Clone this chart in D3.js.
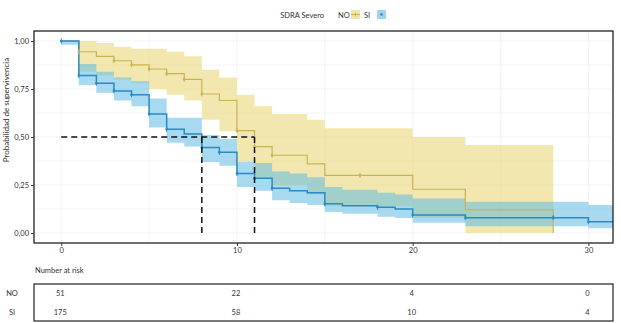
<!DOCTYPE html>
<html>
<head>
<meta charset="utf-8">
<script src="https://cdn.jsdelivr.net/npm/d3@7"></script>
<style>
  body { margin: 0; background: #fff; }
  svg text { font-family: Lato, "DejaVu Sans", sans-serif; fill: #333; }
</style>
</head>
<body>
<div id="chart"></div>
<script>
// Kaplan-Meier curves, SDRA Severo NO / SI
const groups = ["NO", "SI"];

const noTimes = [0, 1, 2, 3, 4, 5, 6, 7, 8, 9, 10, 11, 12, 14, 15, 20, 23];
const noSurv  = [1.0, 0.944, 0.92, 0.897, 0.876, 0.854, 0.83, 0.80, 0.724, 0.69, 0.533, 0.45, 0.405, 0.36, 0.30, 0.228, 0.12];
const noLower = [1.0, 0.84, 0.82, 0.80, 0.78, 0.75, 0.72, 0.69, 0.59, 0.53, 0.37, 0.29, 0.25, 0.20, 0.14, 0.08, 0.0];
const noUpper = [1.0, 1.0, 0.99, 0.97, 0.96, 0.96, 0.944, 0.92, 0.85, 0.81, 0.72, 0.66, 0.62, 0.59, 0.545, 0.50, 0.458];
const noEnd = 28;
const noMarks = [1, 3, 4, 5, 6, 7, 8, 10, 11, 12, 17];

const siTimes = [0, 1, 2, 3, 4, 5, 6, 7, 8, 9, 10, 11, 12, 13, 14, 15, 16, 18, 19, 20, 23, 30];
const siSurv  = [1.0, 0.82, 0.78, 0.74, 0.72, 0.62, 0.54, 0.515, 0.445, 0.42, 0.31, 0.285, 0.233, 0.22, 0.21, 0.152, 0.142, 0.134, 0.125, 0.094, 0.08, 0.059];
const siLower = [0.98, 0.77, 0.73, 0.69, 0.66, 0.55, 0.47, 0.45, 0.37, 0.35, 0.24, 0.22, 0.17, 0.156, 0.146, 0.11, 0.10, 0.085, 0.078, 0.054, 0.035, 0.025];
const siUpper = [1.0, 0.88, 0.84, 0.81, 0.79, 0.70, 0.60, 0.60, 0.51, 0.49, 0.37, 0.365, 0.32, 0.31, 0.29, 0.24, 0.225, 0.21, 0.20, 0.18, 0.163, 0.146];
const siEnd = 31.4;
const siMarks = [0, 1, 2, 3, 4, 5, 6, 8, 9, 10, 11, 12, 15, 18, 20, 23, 28, 30];

const medianNO = 11;
const medianSI = 8;

const xTicks = [0, 10, 20, 30];
const yTicks = [0, 0.25, 0.5, 0.75, 1];
const yTickLabels = ["0,00", "0,25", "0,50", "0,75", "1,00"];

const riskTimes = [0, 10, 20, 30];
const riskNO = [51, 22, 4, 0];
const riskSI = [175, 58, 10, 4];

const colors = {
  NO: { line: "#c8b455", band: "rgb(232,214,110)" },
  SI: { line: "#2a8bbf", band: "rgb(95,185,228)" }
};

const width = 621, height = 323;
const plot = { left: 34, right: 613, top: 31, bottom: 243 };

const svg = d3.select("#chart").append("svg")
  .attr("width", width)
  .attr("height", height);

const x = d3.scaleLinear().domain([-1.55, 31.4]).range([plot.left, plot.right]);
const y = d3.scaleLinear().domain([-0.052, 1.052]).range([plot.bottom, plot.top]);

svg.append("defs").append("clipPath")
  .attr("id", "clip")
  .append("rect")
  .attr("x", plot.left).attr("y", plot.top)
  .attr("width", plot.right - plot.left)
  .attr("height", plot.bottom - plot.top);

// faint grid (only really shows through the bands)
let grid = svg.append("g").attr("clip-path", "url(#clip)");
let gx = d3.range(0, 35, 5), gy = d3.range(0, 1.01, 0.125);
grid.selectAll(".gx").data(gx).enter().append("line")
  .attr("x1", d => x(d)).attr("x2", d => x(d))
  .attr("y1", plot.top).attr("y2", plot.bottom)
  .attr("stroke", "#f1f1f1").attr("stroke-width", 0.8);
grid.selectAll(".gy").data(gy).enter().append("line")
  .attr("x1", plot.left).attr("x2", plot.right)
  .attr("y1", d => y(d)).attr("y2", d => y(d))
  .attr("stroke", "#f1f1f1").attr("stroke-width", 0.8);

function makeSeries(times, surv, lower, upper, end) {
  let pts = times.map((t, i) => ({t: t, s: surv[i], lo: lower[i], hi: upper[i]}));
  let last = pts[pts.length - 1];
  pts.push({t: end, s: last.s, lo: last.lo, hi: last.hi});
  return pts;
}

const series = {
  NO: makeSeries(noTimes, noSurv, noLower, noUpper, noEnd),
  SI: makeSeries(siTimes, siSurv, siLower, siUpper, siEnd)
};

const area = d3.area()
  .curve(d3.curveStepAfter)
  .x(d => x(d.t))
  .y0(d => y(d.lo))
  .y1(d => y(d.hi));

const line = d3.line()
  .curve(d3.curveStepAfter)
  .x(d => x(d.t))
  .y(d => y(d.s));

let layer = svg.append("g").attr("clip-path", "url(#clip)");

groups.forEach(g => {
  layer.append("path")
    .attr("d", area(series[g]))
    .attr("fill", colors[g].band)
    .attr("fill-opacity", 0.55);
});

// survival lines
groups.forEach(g => {
  let pts = series[g].slice();
  if (g === "NO") pts.push({t: noEnd, s: 0});
  layer.append("path")
    .attr("d", line(pts))
    .attr("fill", "none")
    .attr("stroke", colors[g].line)
    .attr("stroke-width", g === "SI" ? 1.5 : 1.2);
});

// marks on the curves
function survAt(times, surv, t) {
  let v = surv[0];
  times.forEach((tt, i) => { if (tt <= t) v = surv[i]; });
  return v;
}
let markSets = [
  {g: "NO", marks: noMarks, times: noTimes, surv: noSurv},
  {g: "SI", marks: siMarks, times: siTimes, surv: siSurv}
];
markSets.forEach(m => {
  let mg = layer.append("g");
  m.marks.forEach(t => {
    let px = x(t), py = y(survAt(m.times, m.surv, t));
    mg.append("line")
      .attr("x1", px).attr("x2", px)
      .attr("y1", py - 2.5).attr("y2", py + 2.5)
      .attr("stroke", colors[m.g].line).attr("stroke-width", 1);
    mg.append("circle")
      .attr("cx", px).attr("cy", py).attr("r", 1.3)
      .attr("fill", colors[m.g].line);
  });
});

// median lines
let med = svg.append("g")
  .attr("stroke", "#111")
  .attr("stroke-width", 1.5)
  .attr("stroke-dasharray", "6,4")
  .attr("fill", "none");
med.append("line")
  .attr("x1", x(0)).attr("x2", x(medianNO))
  .attr("y1", y(0.5)).attr("y2", y(0.5));
[medianSI, medianNO].forEach(m => {
  med.append("line")
    .attr("x1", x(m)).attr("x2", x(m))
    .attr("y1", y(0.5)).attr("y2", y(0));
});

// frame
svg.append("rect")
  .attr("x", plot.left).attr("y", plot.top)
  .attr("width", plot.right - plot.left)
  .attr("height", plot.bottom - plot.top)
  .attr("fill", "none")
  .attr("stroke", "#222")
  .attr("stroke-width", 1.3);

// axes
let yAxis = svg.append("g")
  .attr("transform", "translate(" + plot.left + ",0)")
  .call(d3.axisLeft(y).tickValues(yTicks).tickSize(3).tickPadding(2)
    .tickFormat((d, i) => yTickLabels[i]));
let xAxis = svg.append("g")
  .attr("transform", "translate(0," + plot.bottom + ")")
  .call(d3.axisBottom(x).tickValues(xTicks).tickSize(3).tickPadding(2));
[xAxis, yAxis].forEach(a => {
  a.select(".domain").remove();
  a.selectAll(".tick line").attr("stroke", "#333");
  a.selectAll("text").style("font-size", "7.5px").attr("fill", "#333");
});

svg.append("text")
  .attr("transform", "translate(9,110) rotate(-90)")
  .attr("text-anchor", "middle")
  .style("font-size", "8px")
  .text("Probabilidad de supervivencia");

// legend
let leg = svg.append("g").style("font-size", "7.5px");
leg.append("text").attr("x", 324).attr("y", 18).attr("text-anchor", "end").text("SDRA Severo");
leg.append("text").attr("x", 338).attr("y", 18).text("NO");
leg.append("rect").attr("x", 351).attr("y", 10).attr("width", 9).attr("height", 9)
  .attr("fill", colors.NO.band).attr("fill-opacity", 0.6);
leg.append("line").attr("x1", 351).attr("x2", 360).attr("y1", 14.5).attr("y2", 14.5)
  .attr("stroke", colors.NO.line);
leg.append("line").attr("x1", 355.5).attr("x2", 355.5).attr("y1", 12.5).attr("y2", 16.5)
  .attr("stroke", colors.NO.line);
leg.append("text").attr("x", 364).attr("y", 18).text("SI");
leg.append("rect").attr("x", 377).attr("y", 10).attr("width", 9).attr("height", 9)
  .attr("fill", colors.SI.band).attr("fill-opacity", 0.6);
leg.append("circle").attr("cx", 381.5).attr("cy", 14.5).attr("r", 1.3)
  .attr("fill", colors.SI.line);

// number at risk table
svg.append("text")
  .attr("x", 35).attr("y", 273)
  .style("font-size", "7.5px")
  .text("Number at risk");
svg.append("rect")
  .attr("x", plot.left).attr("y", 284)
  .attr("width", plot.right - plot.left).attr("height", 37)
  .attr("fill", "none").attr("stroke", "#222").attr("stroke-width", 1.2);

let rows = [{label: "NO", vals: riskNO, yy: 296}, {label: "SI", vals: riskSI, yy: 315}];
rows.forEach(r => {
  svg.append("text")
    .attr("x", 12).attr("y", r.yy)
    .attr("text-anchor", "middle")
    .style("font-size", "7.5px")
    .text(r.label);
  svg.selectAll(null).data(r.vals).enter().append("text")
    .attr("x", (d, i) => x(riskTimes[i]) - 1)
    .attr("y", r.yy)
    .attr("text-anchor", "middle")
    .style("font-size", "7.5px")
    .text(d => d);
});
</script>
</body>
</html>
